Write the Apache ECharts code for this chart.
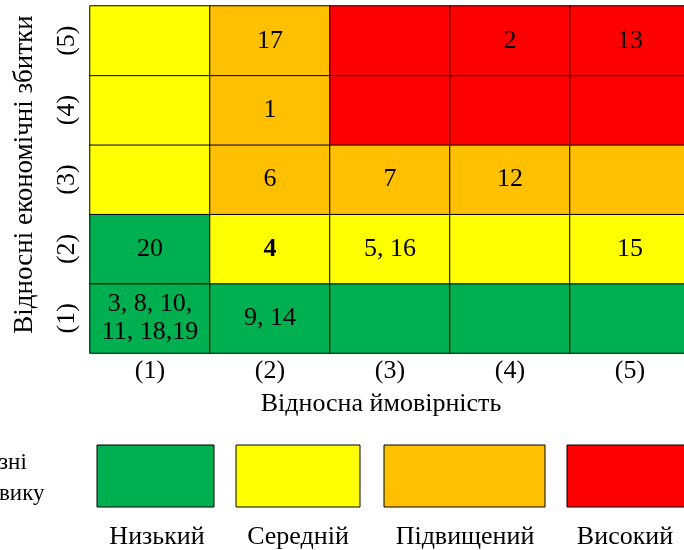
<!DOCTYPE html>
<html>
<head>
<meta charset="utf-8">
<script src="https://cdn.jsdelivr.net/npm/echarts@6/dist/echarts.min.js"></script>
<style>
  html, body { margin: 0; padding: 0; background: #fff; }
  #chart { width: 684px; height: 550px; }
</style>
</head>
<body>
<div id="chart"></div>
<script>
// осі
const xCats = ["(1)", "(2)", "(3)", "(4)", "(5)"];
const yCats = ["(1)", "(2)", "(3)", "(4)", "(5)"];

// рівень ризику в кожній клітинці, рядки знизу вгору (0 низький .. 3 високий)
const levelRows = [
  [0, 0, 0, 0, 0],
  [0, 1, 1, 1, 1],
  [1, 2, 2, 2, 2],
  [1, 2, 3, 3, 3],
  [1, 2, 3, 3, 3]
];

// номери ризиків у клітинках, рядки знизу вгору
const labelRows = [
  ["3, 8, 10,\n11, 18,19", "9, 14", "", "", ""],
  ["20", "4", "5, 16", "", "15"],
  ["", "6", "7", "12", ""],
  ["", "1", "", "", ""],
  ["", "17", "", "2", "13"]
];
const boldCells = ["4"];

const levelNames = ["Низький", "Середній", "Підвищений", "Високий"];
const levelColors = ["#00B050", "#FFFF00", "#FFC000", "#FF0000"];

const serif = '"Liberation Serif", "DejaVu Serif", serif';

let data = [];
levelRows.forEach((row, y) => {
  row.forEach((lvl, x) => {
    let txt = labelRows[y][x];
    let item = { value: [x, y, lvl], name: txt };
    if (boldCells.indexOf(txt) >= 0) {
      item.label = { fontWeight: "bold" };
    }
    data.push(item);
  });
});

// легенда під графіком
const boxX = [97, 236, 384, 567];
const boxW = [117, 124, 161, 130];
let graphics = [];
levelNames.forEach((n, i) => {
  graphics.push({
    type: "rect",
    shape: { x: boxX[i], y: 445, width: boxW[i], height: 62 },
    style: { fill: levelColors[i], stroke: "#000", lineWidth: 1 }
  });
});
const legendTextX = [157, 298, 465, 625];
levelNames.forEach((n, i) => {
  graphics.push({
    type: "text",
    x: legendTextX[i],
    y: 537,
    style: { text: n, font: "26px " + serif, fill: "#000", align: "center", verticalAlign: "middle" }
  });
});
graphics.push({
  type: "text", x: -1, y: 463,
  style: { text: "зні", font: "23px " + serif, fill: "#000", align: "left", verticalAlign: "middle" }
});
graphics.push({
  type: "text", x: -1, y: 494,
  style: { text: "вику", font: "23px " + serif, fill: "#000", align: "left", verticalAlign: "middle" }
});

let mychart = echarts.init(document.getElementById("chart"));
mychart.setOption({
  animation: false,
  grid: { left: 90, top: 6, width: 600, height: 347, outerBoundsMode: "none", containLabel: false },
  xAxis: {
    type: "category",
    data: xCats,
    name: "Відносна ймовірність",
    nameLocation: "middle",
    nameGap: 38,
    nameTextStyle: { fontFamily: serif, fontSize: 26, color: "#000", padding: [0, 18, 0, 0] },
    axisLine: { show: false },
    axisTick: { show: false },
    splitArea: { show: false },
    axisLabel: { fontFamily: serif, fontSize: 26, color: "#000", margin: 5 }
  },
  yAxis: {
    type: "category",
    data: yCats,
    name: "Відносні економічні збитки",
    nameLocation: "middle",
    nameGap: 52,
    nameRotate: 90,
    nameTextStyle: { fontFamily: serif, fontSize: 27, color: "#000", padding: [0, 0, 0, 10] },
    axisLine: { show: false },
    axisTick: { show: false },
    splitArea: { show: false },
    axisLabel: { fontFamily: serif, fontSize: 26, color: "#000", rotate: 90, margin: 10 }
  },
  visualMap: {
    type: "piecewise",
    show: false,
    dimension: 2,
    pieces: levelColors.map((c, i) => ({ value: i, color: c }))
  },
  series: [
    {
      type: "heatmap",
      data: data,
      itemStyle: { borderColor: "#000", borderWidth: 1 },
      label: {
        show: true,
        formatter: p => p.name,
        fontFamily: serif,
        fontSize: 26,
        lineHeight: 28,
        color: "#000"
      },
      emphasis: { disabled: true }
    }
  ],
  graphic: graphics
});
</script>
</body>
</html>
